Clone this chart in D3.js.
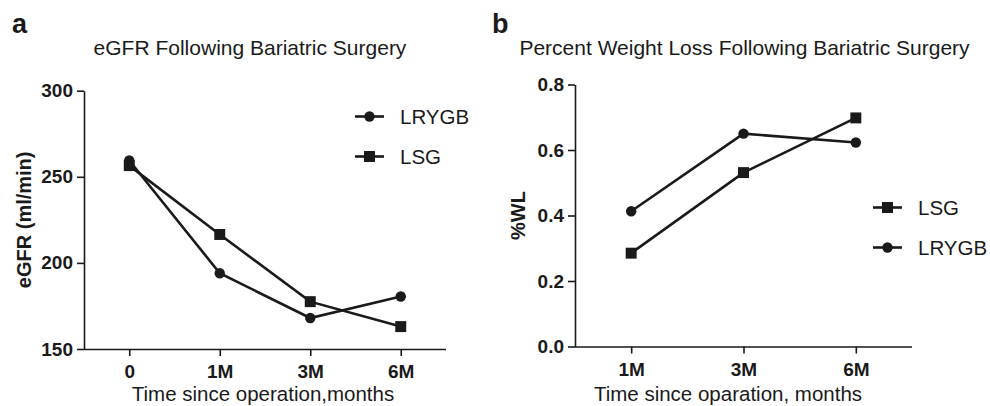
<!DOCTYPE html>
<html>
<head>
<meta charset="utf-8">
<script src="https://cdn.jsdelivr.net/npm/d3@7"></script>
<style>
  body { margin: 0; background: #fff; }
  svg { display: block; font-family: "Liberation Sans", Arial, sans-serif; }
</style>
</head>
<body>
<svg id="chart" width="990" height="406"></svg>
<script>
// panel a data
const timeA = ["0", "1M", "3M", "6M"];
const egfrLRYGB = [259.5, 194, 168, 180.5];
const egfrLSG = [256.5, 216.5, 177.5, 163];
const egfrTicks = [150, 200, 250, 300];

// panel b data
const timeB = ["1M", "3M", "6M"];
const wlLSG = [0.285, 0.531, 0.698];
const wlLRYGB = [0.413, 0.650, 0.623];
const wlTicks = [0, 0.2, 0.4, 0.6, 0.8];

const ink = "#1a1a1a";
const svg = d3.select("#chart");

const symbolFor = {
  circle: d3.symbol(d3.symbolCircle, 85),
  square: d3.symbol(d3.symbolSquare, 120),
};

function drawPanel({ left, right, top, bottom, cats, yDomain, ticks, tickFmt,
                     series, title, titleX, yTitle, yTitleX, xTitle, xTitleX, legend }) {
  const x = d3.scalePoint().domain(cats).range([left, right]).padding(0.5);
  const y = d3.scaleLinear().domain(yDomain).range([bottom, top]);

  const g = svg.append("g");

  // axes
  const yAxis = g.append("g")
    .attr("transform", `translate(${left},0)`)
    .call(d3.axisLeft(y).tickValues(ticks).tickFormat(tickFmt).tickSize(7).tickSizeOuter(0).tickPadding(4));
  const xAxis = g.append("g")
    .attr("transform", `translate(0,${bottom})`)
    .call(d3.axisBottom(x).tickSize(7).tickSizeOuter(0).tickPadding(9));
  xAxis.select(".domain").attr("d", `M${left},0.5H${right}`);

  [yAxis, xAxis].forEach((a) => {
    a.selectAll("path, line").attr("stroke", ink).attr("stroke-width", 1.6);
    a.selectAll("text")
      .attr("fill", ink)
      .style("font-size", "19px")
      .style("font-weight", "bold")
      .style("font-family", "'Liberation Sans', Arial, sans-serif");
  });

  // lines + markers
  const lineGen = d3.line().x((d) => x(d.cat)).y((d) => y(d.value));
  series.forEach((s) => {
    const pts = cats.map((c, i) => ({ cat: c, value: s.values[i] }));
    g.append("path")
      .attr("d", lineGen(pts))
      .attr("fill", "none")
      .attr("stroke", ink)
      .attr("stroke-width", 2.6);
    g.selectAll(null)
      .data(pts)
      .join("path")
      .attr("transform", (d) => `translate(${x(d.cat)},${y(d.value)})`)
      .attr("d", symbolFor[s.shape]())
      .attr("fill", ink);
  });

  // titles
  g.append("text")
    .attr("x", titleX).attr("y", 55)
    .attr("text-anchor", "middle")
    .attr("fill", ink)
    .style("font-size", "21px")
    .text(title);

  g.append("text")
    .attr("transform", `translate(${yTitleX},${(top + bottom) / 2}) rotate(-90)`)
    .attr("text-anchor", "middle")
    .attr("dominant-baseline", "central")
    .attr("fill", ink)
    .style("font-size", "20px")
    .style("font-weight", "bold")
    .text(yTitle);

  g.append("text")
    .attr("x", xTitleX).attr("y", 401)
    .attr("text-anchor", "middle")
    .attr("fill", ink)
    .style("font-size", "20.5px")
    .text(xTitle);

  // legend
  const lg = g.selectAll(".leg")
    .data(legend.items)
    .join("g")
    .attr("transform", (d, i) => `translate(${legend.x},${legend.y + i * legend.gap})`);
  lg.append("line")
    .attr("x1", 0).attr("x2", 29)
    .attr("stroke", ink).attr("stroke-width", 2.6);
  lg.append("path")
    .attr("transform", "translate(14.5,0)")
    .attr("d", (d) => symbolFor[d.shape]())
    .attr("fill", ink);
  lg.append("text")
    .attr("x", 45)
    .attr("dominant-baseline", "central")
    .attr("fill", ink)
    .style("font-size", "20.5px")
    .text((d) => d.name);
}

drawPanel({
  left: 84, right: 446, top: 90.7, bottom: 349,
  cats: timeA, yDomain: [150, 300], ticks: egfrTicks, tickFmt: d3.format("d"),
  series: [
    { name: "LRYGB", shape: "circle", values: egfrLRYGB },
    { name: "LSG", shape: "square", values: egfrLSG },
  ],
  title: "eGFR Following Bariatric Surgery", titleX: 250,
  yTitle: "eGFR (ml/min)", yTitleX: 24,
  xTitle: "Time since operation,months", xTitleX: 263,
  legend: {
    x: 355, y: 116.5, gap: 40,
    items: [{ name: "LRYGB", shape: "circle" }, { name: "LSG", shape: "square" }],
  },
});

drawPanel({
  left: 575, right: 912, top: 84.5, bottom: 346.5,
  cats: timeB, yDomain: [0, 0.8], ticks: wlTicks, tickFmt: d3.format(".1f"),
  series: [
    { name: "LSG", shape: "square", values: wlLSG },
    { name: "LRYGB", shape: "circle", values: wlLRYGB },
  ],
  title: "Percent Weight Loss Following Bariatric Surgery", titleX: 744.5,
  yTitle: "%WL", yTitleX: 518,
  xTitle: "Time since oparation, months", xTitleX: 728,
  legend: {
    x: 873, y: 207.5, gap: 40,
    items: [{ name: "LSG", shape: "square" }, { name: "LRYGB", shape: "circle" }],
  },
});

// panel letters
svg.append("text").attr("x", 12).attr("y", 33)
  .attr("fill", ink).style("font-size", "27px").style("font-weight", "bold").text("a");
svg.append("text").attr("x", 492).attr("y", 33)
  .attr("fill", ink).style("font-size", "27px").style("font-weight", "bold").text("b");
</script>
</body>
</html>
